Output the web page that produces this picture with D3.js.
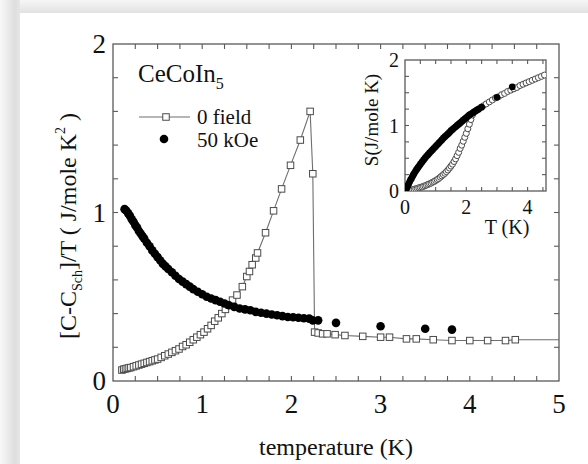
<!DOCTYPE html>
<html>
<head>
<meta charset="utf-8">
<script src="https://cdn.jsdelivr.net/npm/d3@7"></script>
<style>
  html, body { margin: 0; padding: 0; background: #fff; }
  text { font-family: "Liberation Serif", "DejaVu Serif", serif; fill: #111; }
</style>
</head>
<body>
<div id="chart"></div>
<script>
// main panel: C/T vs temperature
var zeroT = [0.10,0.12,0.14,0.16,0.18,0.20,0.23,0.26,0.29,0.32,0.35,0.38,0.41,0.44,0.47,0.50,0.54,0.58,0.62,0.66,0.70,0.74,0.78,0.82,0.86,0.90,0.94,0.98,1.02,1.06,1.10,1.14,1.18,1.22,1.26,1.30,1.34,1.39,1.45,1.50,1.53,1.56,1.60,1.62,1.71,1.80,1.89,1.99,2.10,2.21,2.24,2.26,2.30,2.35,2.40,2.49,2.60,2.80,3.00,3.10,3.29,3.40,3.59,3.80,4.00,4.20,4.40,4.51,5.00];
var zeroC = [0.065,0.07,0.072,0.075,0.078,0.08,0.085,0.09,0.095,0.10,0.105,0.11,0.115,0.12,0.125,0.13,0.14,0.15,0.16,0.17,0.18,0.19,0.205,0.215,0.23,0.245,0.26,0.275,0.29,0.31,0.33,0.355,0.375,0.40,0.425,0.45,0.48,0.51,0.56,0.62,0.65,0.69,0.73,0.76,0.88,1.01,1.14,1.28,1.43,1.60,1.23,0.29,0.285,0.28,0.28,0.275,0.27,0.265,0.26,0.26,0.25,0.25,0.245,0.24,0.24,0.24,0.24,0.245,0.245];

var fieldT = [0.13,0.15,0.17,0.19,0.21,0.23,0.25,0.27,0.29,0.31,0.33,0.35,0.38,0.41,0.44,0.47,0.50,0.53,0.56,0.59,0.62,0.66,0.70,0.74,0.78,0.82,0.86,0.90,0.95,1.00,1.05,1.10,1.15,1.20,1.25,1.30,1.36,1.42,1.48,1.54,1.60,1.66,1.72,1.78,1.84,1.90,1.96,2.02,2.08,2.14,2.20,2.24,2.30,2.50,3.00,3.50,3.80];
var fieldC = [1.02,1.01,0.995,0.98,0.96,0.945,0.925,0.91,0.89,0.875,0.86,0.845,0.82,0.80,0.775,0.755,0.735,0.715,0.695,0.68,0.665,0.645,0.625,0.605,0.59,0.575,0.56,0.545,0.53,0.515,0.50,0.49,0.48,0.47,0.46,0.45,0.44,0.43,0.425,0.42,0.41,0.405,0.40,0.395,0.39,0.385,0.38,0.378,0.375,0.372,0.37,0.36,0.36,0.345,0.325,0.31,0.305];

// inset: entropy
var sZeroT = [0.05,0.1,0.15,0.2,0.25,0.3,0.35,0.4,0.45,0.5,0.55,0.6,0.65,0.7,0.75,0.8,0.85,0.9,0.95,1.0,1.05,1.1,1.15,1.2,1.25,1.3,1.35,1.4,1.45,1.5,1.55,1.6,1.65,1.7,1.75,1.8,1.85,1.9,1.95,2.0,2.05,2.1,2.15,2.2,2.25,2.35,2.45,2.55,2.65,2.75,2.85,2.95,3.05,3.15,3.25,3.35,3.45,3.55,3.65,3.75,3.85,3.95,4.05,4.15,4.25,4.35,4.45,4.55];
var sZeroS = [0.003,0.006,0.01,0.015,0.02,0.027,0.033,0.04,0.048,0.055,0.062,0.07,0.08,0.09,0.10,0.11,0.12,0.135,0.145,0.16,0.175,0.19,0.21,0.23,0.25,0.27,0.295,0.32,0.35,0.38,0.41,0.45,0.49,0.54,0.59,0.65,0.70,0.76,0.82,0.88,0.95,1.02,1.09,1.16,1.21,1.24,1.27,1.30,1.33,1.36,1.39,1.42,1.44,1.47,1.49,1.52,1.54,1.56,1.58,1.61,1.63,1.65,1.67,1.69,1.71,1.73,1.75,1.77];

var sFieldT = [0.03,0.06,0.09,0.12,0.15,0.18,0.21,0.24,0.27,0.3,0.34,0.38,0.42,0.46,0.5,0.55,0.6,0.65,0.7,0.75,0.8,0.85,0.9,0.95,1.0,1.05,1.1,1.15,1.2,1.25,1.3,1.35,1.4,1.45,1.5,1.55,1.6,1.65,1.7,1.75,1.8,1.85,1.9,1.95,2.0,2.05,2.1,2.15,2.2,2.25,2.3,2.35,2.4,2.5,3.0,3.5];
var sFieldS = [0.02,0.05,0.08,0.11,0.14,0.17,0.19,0.22,0.245,0.27,0.30,0.33,0.355,0.38,0.41,0.44,0.47,0.50,0.53,0.555,0.58,0.605,0.63,0.655,0.68,0.705,0.73,0.755,0.78,0.805,0.83,0.85,0.87,0.895,0.92,0.94,0.96,0.98,1.00,1.02,1.04,1.06,1.08,1.10,1.12,1.14,1.16,1.175,1.19,1.205,1.22,1.235,1.25,1.28,1.43,1.59];

var xTicks = [0, 1, 2, 3, 4, 5];
var yTicks = [0, 1, 2];
var insetXTicks = [0, 2, 4];
var insetYTicks = [0, 1, 2];

var W = 588, H = 464;
var svg = d3.select("#chart").append("svg").attr("width", W).attr("height", H);

// page shadow round the white panel
var defs = svg.append("defs");
var gTop = defs.append("linearGradient").attr("id", "gTop").attr("x1", 0).attr("y1", 0).attr("x2", 0).attr("y2", 1);
gTop.append("stop").attr("offset", "0%").attr("stop-color", "#f6f6f6");
gTop.append("stop").attr("offset", "100%").attr("stop-color", "#e2e2e2");
var gLeft = defs.append("linearGradient").attr("id", "gLeft").attr("x1", 0).attr("y1", 0).attr("x2", 1).attr("y2", 0);
gLeft.append("stop").attr("offset", "0%").attr("stop-color", "#f8f8f8");
gLeft.append("stop").attr("offset", "75%").attr("stop-color", "#dedede");
gLeft.append("stop").attr("offset", "100%").attr("stop-color", "#e6e6e6");
svg.append("rect").attr("x", 0).attr("y", 0).attr("width", W).attr("height", 13).attr("fill", "url(#gTop)");
svg.append("rect").attr("x", 0).attr("y", 0).attr("width", 20).attr("height", H).attr("fill", "url(#gLeft)");
svg.append("rect").attr("x", 20).attr("y", 13).attr("width", W - 20).attr("height", H - 13).attr("fill", "#fff");

var x = d3.scaleLinear().domain([0, 5]).range([113, 559]);
var y = d3.scaleLinear().domain([0, 2]).range([381, 44]);

var frameColor = "#5a5a5a";

function drawFrame(g, xs, ys, xMinor, yMinor, tickLen) {
  var x0 = xs.range()[0], x1 = xs.range()[1], y0 = ys.range()[0], y1 = ys.range()[1];
  g.append("rect").attr("x", x0).attr("y", y1).attr("width", x1 - x0).attr("height", y0 - y1)
    .attr("fill", "none").attr("stroke", frameColor).attr("stroke-width", 1.3);
  var tk = g.append("g").attr("stroke", frameColor).attr("stroke-width", 1.1);
  xMinor.forEach(function(v) {
    tk.append("line").attr("x1", xs(v)).attr("x2", xs(v)).attr("y1", y0).attr("y2", y0 - tickLen);
    tk.append("line").attr("x1", xs(v)).attr("x2", xs(v)).attr("y1", y1).attr("y2", y1 + tickLen);
  });
  yMinor.forEach(function(v) {
    tk.append("line").attr("x1", x0).attr("x2", x0 + tickLen).attr("y1", ys(v)).attr("y2", ys(v));
    tk.append("line").attr("x1", x1).attr("x2", x1 - tickLen).attr("y1", ys(v)).attr("y2", ys(v));
  });
}

var main = svg.append("g");
drawFrame(main, x, y, d3.range(0.25, 5, 0.25), d3.range(0.2, 2, 0.2), 5);

main.selectAll(".xl").data(xTicks).enter().append("text")
  .attr("x", function(d) { return x(d); }).attr("y", 413)
  .attr("text-anchor", "middle").attr("font-size", 27).text(function(d) { return d; });
main.selectAll(".yl").data(yTicks).enter().append("text")
  .attr("x", 106).attr("y", function(d) { return y(d) + 9; })
  .attr("text-anchor", "end").attr("font-size", 27).text(function(d) { return d; });

main.append("text").attr("x", 336).attr("y", 455).attr("text-anchor", "middle")
  .attr("font-size", 24).text("temperature (K)");

var yt = main.append("text").attr("transform", "translate(76,226) rotate(-90)")
  .attr("text-anchor", "middle").attr("font-size", 24);
yt.append("tspan").text("[C-C");
yt.append("tspan").attr("font-size", 14).attr("dy", 6).text("Sch");
yt.append("tspan").attr("dy", -6).text("]/T ( J/mole K");
yt.append("tspan").attr("font-size", 14).attr("dy", -11).text("2");
yt.append("tspan").attr("dy", 11).text(" )");

// data
var clip = defs.append("clipPath").attr("id", "clipMain");
clip.append("rect").attr("x", 113).attr("y", 44).attr("width", 446).attr("height", 337);
var plot = main.append("g").attr("clip-path", "url(#clipMain)");

var zeroPts = zeroT.map(function(t, i) { return [t, zeroC[i]]; });
var fieldPts = fieldT.map(function(t, i) { return [t, fieldC[i]]; });

plot.append("path").datum(zeroPts)
  .attr("d", d3.line().x(function(d) { return x(d[0]); }).y(function(d) { return y(d[1]); }))
  .attr("fill", "none").attr("stroke", "#6e6e6e").attr("stroke-width", 1.1);

var sq = 6.5;
plot.selectAll(".sq").data(zeroPts.filter(function(d) { return d[0] < 4.9; })).enter().append("rect")
  .attr("x", function(d) { return x(d[0]) - sq / 2; }).attr("y", function(d) { return y(d[1]) - sq / 2; })
  .attr("width", sq).attr("height", sq)
  .attr("fill", "#fff").attr("stroke", "#4a4a4a").attr("stroke-width", 1);

plot.selectAll(".dot").data(fieldPts).enter().append("circle")
  .attr("cx", function(d) { return x(d[0]); }).attr("cy", function(d) { return y(d[1]); })
  .attr("r", 4.3).attr("fill", "#000");

// label and legend
var lab = main.append("text").attr("x", 138).attr("y", 82).attr("font-size", 25);
lab.append("tspan").text("CeCoIn");
lab.append("tspan").attr("font-size", 16).attr("dy", 7).text("5");

main.append("line").attr("x1", 139).attr("x2", 190).attr("y1", 117).attr("y2", 117)
  .attr("stroke", "#6e6e6e").attr("stroke-width", 1.1);
main.append("rect").attr("x", 166 - sq / 2).attr("y", 117 - sq / 2).attr("width", sq).attr("height", sq)
  .attr("fill", "#fff").attr("stroke", "#4a4a4a").attr("stroke-width", 1);
main.append("text").attr("x", 197).attr("y", 124).attr("font-size", 21).text("0 field");
main.append("circle").attr("cx", 164).attr("cy", 139).attr("r", 4.3).attr("fill", "#000");
main.append("text").attr("x", 197).attr("y", 147).attr("font-size", 21).text("50 kOe");

// inset
var ix = d3.scaleLinear().domain([0, 4.6]).range([405, 546]);
var iy = d3.scaleLinear().domain([0, 2]).range([191, 60]);
var inset = svg.append("g");
drawFrame(inset, ix, iy, d3.range(0.5, 4.6, 0.5), d3.range(0.25, 2, 0.25), 4);

inset.selectAll(".ixl").data(insetXTicks).enter().append("text")
  .attr("x", function(d) { return ix(d); }).attr("y", 214)
  .attr("text-anchor", "middle").attr("font-size", 20).text(function(d) { return d; });
inset.selectAll(".iyl").data(insetYTicks).enter().append("text")
  .attr("x", 399).attr("y", function(d) { return iy(d) + 7; })
  .attr("text-anchor", "end").attr("font-size", 20).text(function(d) { return d; });
inset.append("text").attr("x", 507).attr("y", 234).attr("text-anchor", "middle")
  .attr("font-size", 20).text("T (K)");
inset.append("text").attr("transform", "translate(378,120) rotate(-90)")
  .attr("text-anchor", "middle").attr("font-size", 19).text("S(J/mole K)");

var iclip = defs.append("clipPath").attr("id", "clipInset");
iclip.append("rect").attr("x", 405).attr("y", 60).attr("width", 141).attr("height", 131);
var iplot = inset.append("g").attr("clip-path", "url(#clipInset)");

iplot.selectAll(".oc").data(sZeroT.map(function(t, i) { return [t, sZeroS[i]]; })).enter().append("circle")
  .attr("cx", function(d) { return ix(d[0]); }).attr("cy", function(d) { return iy(d[1]); })
  .attr("r", 3).attr("fill", "#fff").attr("stroke", "#4a4a4a").attr("stroke-width", 1);
iplot.selectAll(".fc").data(sFieldT.map(function(t, i) { return [t, sFieldS[i]]; })).enter().append("circle")
  .attr("cx", function(d) { return ix(d[0]); }).attr("cy", function(d) { return iy(d[1]); })
  .attr("r", 3.4).attr("fill", "#000");
</script>
</body>
</html>
